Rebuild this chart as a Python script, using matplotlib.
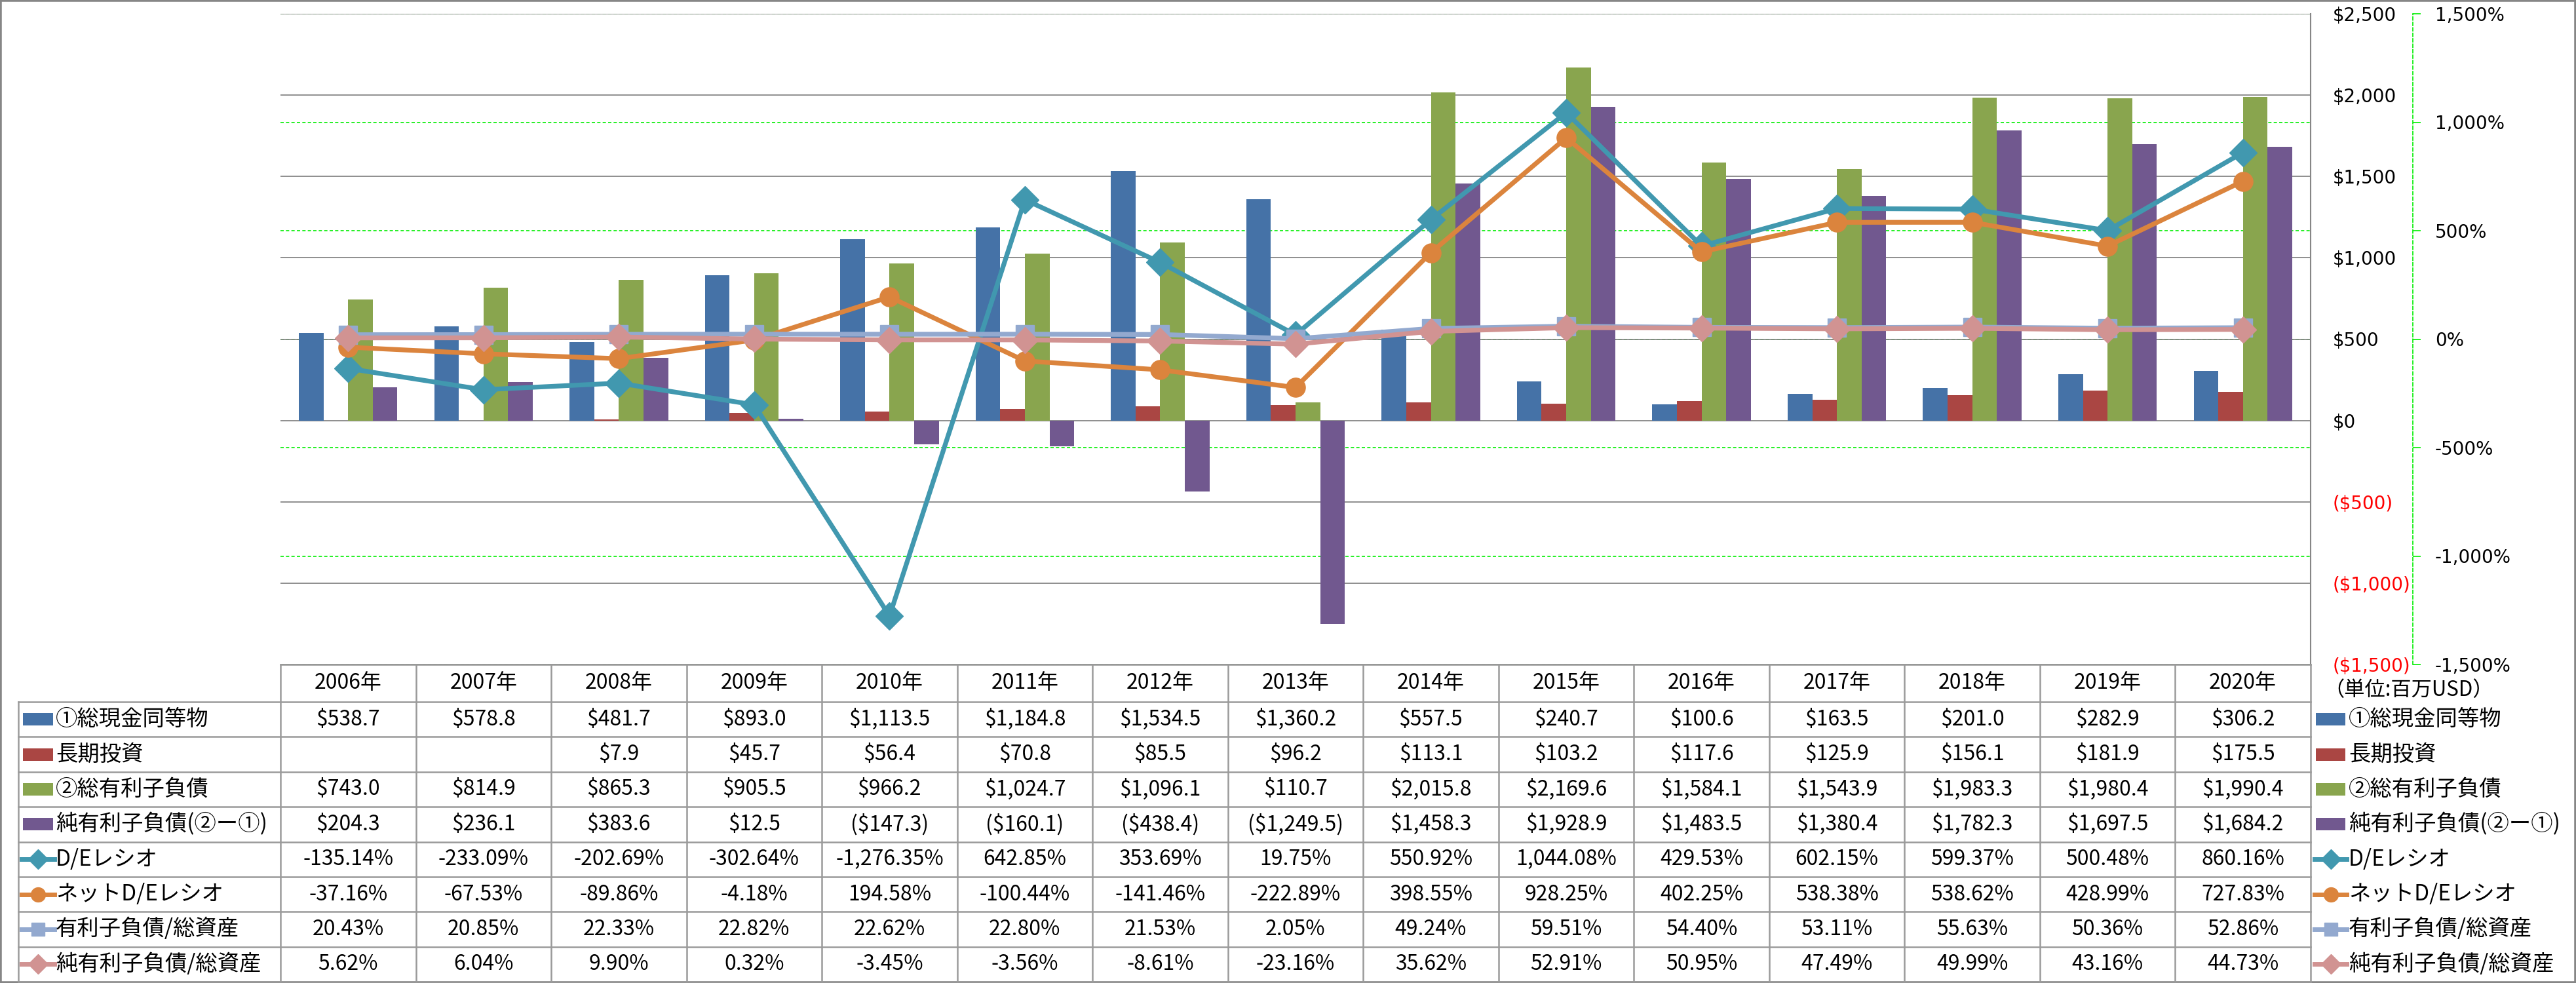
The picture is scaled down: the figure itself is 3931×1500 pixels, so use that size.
import numpy as np
import matplotlib
matplotlib.use('Agg')
import matplotlib.pyplot as plt
from matplotlib.transforms import blended_transform_factory
from matplotlib.lines import Line2D
from matplotlib.patches import Rectangle

plt.rcParams['font.family'] = ['DejaVu Sans', 'Noto Sans CJK JP']

# ---------------- data ----------------
years = ['2006年', '2007年', '2008年', '2009年', '2010年', '2011年', '2012年', '2013年',
         '2014年', '2015年', '2016年', '2017年', '2018年', '2019年', '2020年']
cash = [538.7, 578.8, 481.7, 893.0, 1113.5, 1184.8, 1534.5, 1360.2, 557.5, 240.7,
        100.6, 163.5, 201.0, 282.9, 306.2]
lt_invest = [np.nan, np.nan, 7.9, 45.7, 56.4, 70.8, 85.5, 96.2, 113.1, 103.2,
             117.6, 125.9, 156.1, 181.9, 175.5]
debt = [743.0, 814.9, 865.3, 905.5, 966.2, 1024.7, 1096.1, 110.7, 2015.8, 2169.6,
        1584.1, 1543.9, 1983.3, 1980.4, 1990.4]
net_debt = [204.3, 236.1, 383.6, 12.5, -147.3, -160.1, -438.4, -1249.5, 1458.3, 1928.9,
            1483.5, 1380.4, 1782.3, 1697.5, 1684.2]
de_ratio = [-135.14, -233.09, -202.69, -302.64, -1276.35, 642.85, 353.69, 19.75, 550.92,
            1044.08, 429.53, 602.15, 599.37, 500.48, 860.16]
net_de_ratio = [-37.16, -67.53, -89.86, -4.18, 194.58, -100.44, -141.46, -222.89, 398.55,
                928.25, 402.25, 538.38, 538.62, 428.99, 727.83]
debt_to_assets = [20.43, 20.85, 22.33, 22.82, 22.62, 22.80, 21.53, 2.05, 49.24, 59.51,
                  54.40, 53.11, 55.63, 50.36, 52.86]
netdebt_to_assets = [5.62, 6.04, 9.90, 0.32, -3.45, -3.56, -8.61, -23.16, 35.62, 52.91,
                     50.95, 47.49, 49.99, 43.16, 44.73]

bar_labels = ['①総現金同等物', '長期投資', '②総有利子負債', '純有利子負債(②ー①)']
line_labels = ['D/Eレシオ', 'ネットD/Eレシオ', '有利子負債/総資産', '純有利子負債/総資産']
usd_ticks = [-1500, -1000, -500, 0, 500, 1000, 1500, 2000, 2500]
pct_ticks = [-1500, -1000, -500, 0, 500, 1000, 1500]
unit_label = '（単位:百万USD）'

# ---------------- styles ----------------
bar_colors = ['#4572A7', '#AA4643', '#89A54E', '#71588F']
line_colors = ['#4198AF', '#DB843D', '#93A9CF', '#D19392']
line_markers = ['D', 'o', 's', 'D']
line_ms = [21, 21, 20, 20]
GRID = '#868686'
TBL = '#9A9A9A'
GREEN = '#00EE00'
RED = '#FF0000'
CJK = ['Noto Sans CJK JP', 'DejaVu Sans']

W, H = 3931, 1500
DPI = 100
PT = 72.0 / DPI  # pixels -> points

fig = plt.figure(figsize=(W / DPI, H / DPI), dpi=DPI)
fig.patch.set_facecolor('white')

X0, X1, Y0, Y1 = 428, 3526, 21, 1014
ax = fig.add_axes([X0 / W, 1 - Y1 / H, (X1 - X0) / W, (Y1 - Y0) / H])
ax2 = ax.twinx()

n = len(years)
x = np.arange(n)
bw = 0.182
series = [cash, lt_invest, debt, net_debt]
for k, (vals, col) in enumerate(zip(series, bar_colors)):
    ax.bar(x + (k - 1.5) * bw, vals, width=bw, color=col, zorder=2, linewidth=0)

ax.set_xlim(-0.5, n - 0.5)
ax.set_ylim(-1500, 2500)
ax2.set_ylim(-1500, 1500)

# primary axis (USD) on the right
ax.yaxis.tick_right()
ax.set_yticks(usd_ticks)
def fmt_usd_tick(v):
    return f'(${-v:,.0f})' if v < 0 else f'${v:,.0f}'
ax.set_yticklabels([fmt_usd_tick(v) for v in usd_ticks])
ax.tick_params(axis='y', length=0, pad=34 * PT, labelsize=20)
for lbl, v in zip(ax.get_yticklabels(), usd_ticks):
    lbl.set_color(RED if v < 0 else 'black')
    lbl.set_horizontalalignment('left')
ax.set_xticks([])
ax.yaxis.grid(True, color=GRID, linewidth=1.3, zorder=1)
ax.set_axisbelow(True)
for s in ['left', 'top', 'bottom']:
    ax.spines[s].set_visible(False)
ax.spines['right'].set_color(GRID)
ax.spines['right'].set_linewidth(1.5)

# green dashed gridlines of the secondary axis, drawn behind the bars
tr = blended_transform_factory(ax.transAxes, ax2.transData)
for p in pct_ticks:
    ax.plot([0, 1], [p, p], transform=tr, color=GREEN, linewidth=1.2,
            dashes=(3, 2), zorder=0.5)

# secondary axis (%)
ax2.set_yticks(pct_ticks)
ax2.set_yticklabels([f'{v:,.0f}%' for v in pct_ticks])
ax2.tick_params(axis='y', direction='out', length=12 * PT, width=1.2, color=GREEN,
                pad=22 * PT, labelsize=20)
for lbl, v in zip(ax2.get_yticklabels(), pct_ticks):
    lbl.set_color(RED if v < 0 else 'black')
for s in ['left', 'top', 'bottom']:
    ax2.spines[s].set_visible(False)
ax2.spines['right'].set_position(('outward', (3682 - X1) * PT))
ax2.spines['right'].set_color(GREEN)
ax2.spines['right'].set_linewidth(1.2)
ax2.spines['right'].set_linestyle((0, (3, 2)))

lines = [de_ratio, net_de_ratio, debt_to_assets, netdebt_to_assets]
for k, vals in enumerate(lines):
    ax2.plot(x, vals, color=line_colors[k], linewidth=5.2, marker=line_markers[k],
             markersize=line_ms[k], markerfacecolor=line_colors[k],
             markeredgecolor=line_colors[k], zorder=3 + k, solid_joinstyle='round')
ax2.set_xlim(-0.5, n - 0.5)

# ---------------- data table ----------------
def fy(ypix):
    return 1 - ypix / H

def fx(xpix):
    return xpix / W

def fmt_usd(v):
    if v is None or (isinstance(v, float) and np.isnan(v)):
        return ''
    return f'(${-v:,.1f})' if v < 0 else f'${v:,.1f}'

def fmt_pct(v):
    return f'{v:,.2f}%'

tcx = blended_transform_factory(ax.transData, fig.transFigure)
HDR_T, HDR_B = 1014, 1071
ROW_H = (1498 - HDR_B) / 8.0
row_edges = [HDR_B + i * ROW_H for i in range(9)]
LBL_X0 = 28

# grid lines of table
fig.add_artist(Line2D([fx(X0), fx(X1)], [fy(HDR_T), fy(HDR_T)], color=TBL, lw=1.8))
for ye in row_edges:
    fig.add_artist(Line2D([fx(LBL_X0), fx(X1)], [fy(ye), fy(ye)], color=TBL, lw=1.8))
fig.add_artist(Line2D([fx(LBL_X0), fx(LBL_X0)], [fy(HDR_B), fy(1498)], color=TBL, lw=1.8))
for i in range(n + 1):
    fig.add_artist(Line2D([i - 0.5, i - 0.5], [fy(HDR_T), fy(1498)], transform=tcx,
                          color=TBL, lw=1.8))

TFS = 23
hdr_c = (HDR_T + HDR_B) / 2
for i, yl in enumerate(years):
    fig.text(i, fy(hdr_c), yl, transform=tcx, ha='center', va='center', fontsize=TFS,
             family=CJK)

table_rows = [(cash, fmt_usd), (lt_invest, fmt_usd), (debt, fmt_usd), (net_debt, fmt_usd),
              (de_ratio, fmt_pct), (net_de_ratio, fmt_pct), (debt_to_assets, fmt_pct),
              (netdebt_to_assets, fmt_pct)]
all_labels = bar_labels + line_labels
for r, (vals, f) in enumerate(table_rows):
    yc = (row_edges[r] + row_edges[r + 1]) / 2
    for i, v in enumerate(vals):
        fig.text(i, fy(yc), f(v), transform=tcx, ha='center', va='center', fontsize=TFS,
                 family=CJK)


def draw_key(r, xk0, xk1, xt):
    yc = (row_edges[r] + row_edges[r + 1]) / 2
    if r < 4:
        fig.add_artist(Rectangle((fx(xk0), fy(yc + 9.5)), fx(xk1) - fx(xk0), 19 / H,
                                 transform=fig.transFigure, color=bar_colors[r], lw=0))
    else:
        k = r - 4
        fig.add_artist(Line2D([fx(xk0 - 2), fx(xk1 + 2)], [fy(yc), fy(yc)],
                              color=line_colors[k], lw=5))
        fig.add_artist(Line2D([fx((xk0 + xk1) / 2)], [fy(yc)], color=line_colors[k],
                              marker=line_markers[k], markersize=line_ms[k] * 0.75,
                              markeredgecolor=line_colors[k], lw=0))
    fig.text(fx(xt), fy(yc), all_labels[r], ha='left', va='center', fontsize=24,
             family=CJK)

for r in range(8):
    draw_key(r, 35, 81, 85)
    draw_key(r, 3534, 3579, 3584)

fig.text(fx(3546), fy(1053), unit_label, ha='left', va='center', fontsize=22.5,
         family=CJK)

# outer border
fig.add_artist(Rectangle((0, 0), 1, 1, transform=fig.transFigure, fill=False,
                         ec='#868686', lw=4))

fig.savefig('out.png', dpi=DPI, facecolor='white')
